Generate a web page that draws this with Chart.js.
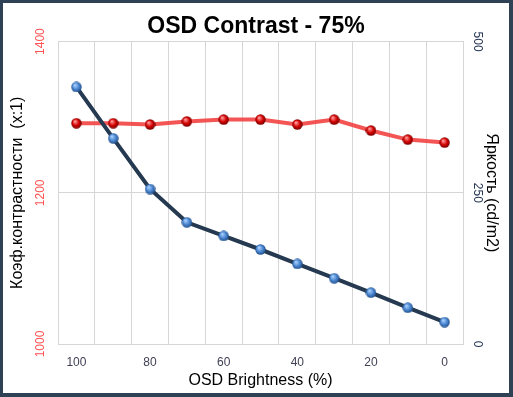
<!DOCTYPE html>
<html>
<head>
<meta charset="utf-8">
<script src="https://cdn.jsdelivr.net/npm/chart.js@4"></script>
<style>
  body { margin: 0; background: #fff; }
  #frame {
    width: 513px; height: 397px; box-sizing: border-box;
    border-style: solid; border-color: #2f4155;
    border-width: 3px 4px 4px 3px; background: #fff;
  }
  canvas { display: block; }
</style>
</head>
<body>
<div id="frame"><canvas id="chart" width="506" height="390"></canvas></div>
<script>
const brightnessSteps = ['100', '90', '80', '70', '60', '50', '40', '30', '20', '10', '0'];
const contrastRatio = [1340, 1272, 1205, 1161, 1143, 1125, 1106, 1087, 1068, 1048, 1029];
const luminance = [365, 365, 363, 368, 371, 371, 363, 371, 353, 338, 333];

const FONT = "'Liberation Sans', Arial, sans-serif";
const GRID = '#d6d6d6';

// small shaded ball used as point marker
function ball(light, mid, dark) {
  const c = document.createElement('canvas');
  c.width = 11; c.height = 11;
  const g = c.getContext('2d');
  const grad = g.createRadialGradient(4, 3.5, 0.5, 5.5, 5.5, 5.5);
  grad.addColorStop(0, light);
  grad.addColorStop(0.55, mid);
  grad.addColorStop(1, dark);
  g.fillStyle = grad;
  g.beginPath();
  g.arc(5.5, 5.5, 5.2, 0, Math.PI * 2);
  g.fill();
  return c;
}

new Chart(document.getElementById('chart'), {
  type: 'line',
  data: {
    labels: brightnessSteps,
    datasets: [{
      label: 'Contrast',
      data: contrastRatio,
      yAxisID: 'y',
      borderColor: '#253a50',
      borderWidth: 4,
      tension: 0,
      pointStyle: ball('#a8d0ff', '#4a86d0', '#1d4a86'),
      pointRadius: 5
    }, {
      label: 'Brightness',
      data: luminance,
      yAxisID: 'y1',
      borderColor: 'rgba(242,70,70,0.92)',
      borderWidth: 4,
      tension: 0,
      pointStyle: ball('#ff9a9a', '#d40000', '#6e0000'),
      pointRadius: 5
    }]
  },
  options: {
    responsive: false,
    animation: false,
    devicePixelRatio: 1,
    layout: { padding: 0 },
    plugins: {
      legend: { display: false },
      tooltip: { enabled: false },
      title: {
        display: true,
        text: 'OSD Contrast - 75%',
        color: '#000',
        font: { family: FONT, size: 23, weight: 'bold' },
        padding: { top: 10, bottom: 1 }
      }
    },
    scales: {
      x: {
        offset: true,
        grid: { color: GRID, offset: true, drawTicks: false },
        border: { color: GRID },
        ticks: {
          autoSkip: false,
          maxRotation: 0,
          padding: 11,
          color: '#404055',
          font: { family: FONT, size: 12 },
          callback: function (v, i) { return i % 2 === 0 ? this.getLabelForValue(v) : ''; }
        },
        title: {
          display: true,
          text: 'OSD Brightness (%)',
          color: '#000',
          font: { family: FONT, size: 16 },
          padding: { top: 0, bottom: 3 }
        },
        afterFit: s => { s.height = 49; }
      },
      y: {
        position: 'left',
        min: 1000, max: 1400,
        grid: { color: GRID, drawTicks: false },
        border: { color: GRID },
        ticks: {
          stepSize: 200,
          minRotation: 90, maxRotation: 90,
          crossAlign: 'center',
          padding: 4,
          color: '#ff5252',
          font: { family: FONT, size: 12 },
          callback: v => String(v)
        },
        title: {
          display: true,
          text: 'Коэф.контрастности  (x:1)',
          color: '#000',
          font: { family: FONT, size: 16 },
          padding: { top: 5.4, bottom: 0 }
        },
        afterFit: s => { s.width = 55; }
      },
      y1: {
        position: 'right',
        min: 0, max: 500,
        grid: { drawOnChartArea: false, drawTicks: false },
        border: { color: GRID },
        ticks: {
          stepSize: 250,
          minRotation: -90, maxRotation: -90,
          crossAlign: 'center',
          padding: 4,
          color: '#1f3050',
          font: { family: FONT, size: 12 },
          callback: v => String(v)
        },
        title: {
          display: true,
          text: 'Яркость (cd/m2)',
          color: '#000',
          font: { family: FONT, size: 16 },
          padding: { top: 7.7, bottom: 0 }
        },
        afterFit: s => { s.width = 46; }
      }
    }
  }
});
</script>
</body>
</html>
